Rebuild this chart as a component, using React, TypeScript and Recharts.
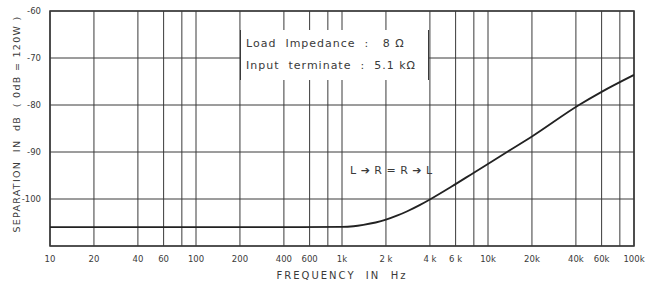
import { CartesianGrid, Line, LineChart, ReferenceArea, XAxis, YAxis } from 'recharts';

const freqs = [10, 100, 500, 1000, 1200, 1400, 1700, 2000, 2400, 2800, 3400, 4000, 5600, 8000, 13500, 20000, 42000, 60000, 100000];
const separation = [-106, -106, -106, -105.95, -105.8, -105.5, -105, -104.4, -103.5, -102.6, -101.3, -100.1, -97.4, -94.4, -90, -86.7, -80, -77.2, -73.6];

const xTicks = [10, 20, 40, 60, 80, 100, 200, 400, 600, 800, 1000, 2000, 4000, 6000, 8000, 10000, 20000, 40000, 60000, 80000, 100000];
const xTickLabels = ['10', '20', '40', '60', '', '100', '200', '400', '600', '', '1k', '2 k', '4 k', '6 k', '', '10k', '20k', '40k', '60k', '', '100k'];
const yTicks = [-100, -90, -80, -70, -60];

const data = freqs.map((f, i) => ({ f, sep: separation[i] }));

const ink = '#3a3a3a';
const font = '"DejaVu Sans", sans-serif';

export default function App() {
  return (
    <div style={{ position: 'absolute', left: 0, top: 0, width: 648, height: 289, background: '#fff', fontFamily: font }}>
      <LineChart width={648} height={289} data={data} margin={{ top: 11, right: 14, bottom: 5, left: 10 }}>
        <CartesianGrid stroke={ink} strokeWidth={1} />
        <XAxis
          dataKey="f"
          type="number"
          scale="log"
          domain={[10, 100000]}
          ticks={xTicks}
          interval={0}
          tickFormatter={(v: number) => xTickLabels[xTicks.indexOf(v)] ?? ''}
          tickLine={false}
          axisLine={false}
          height={38}
          tick={{ fontSize: 8.5, fill: ink, fontFamily: font }}
          tickMargin={4}
          allowDataOverflow
        />
        <YAxis
          type="number"
          domain={[-110, -60]}
          ticks={yTicks}
          interval={0}
          tickLine={false}
          axisLine={false}
          width={40}
          tick={{ fontSize: 8.5, fill: ink, fontFamily: font }}
          tickMargin={3}
        />
        <ReferenceArea x1={10} x2={100000} y1={-110} y2={-60} fill="none" stroke={ink} strokeWidth={1.6} />
        <Line
          dataKey="sep"
          type="monotone"
          stroke="#222"
          strokeWidth={1.8}
          dot={false}
          isAnimationActive={false}
        />
      </LineChart>

      <div
        style={{
          position: 'absolute', left: 240, top: 30, width: 189, height: 50, background: '#fff',
          borderLeft: `1px solid ${ink}`, borderRight: `1px solid ${ink}`, boxSizing: 'border-box',
          fontSize: 11, color: ink, lineHeight: '22px', paddingLeft: 5, paddingTop: 3, letterSpacing: 1,
          whiteSpace: 'nowrap',
        }}
      >
        <div>Load&nbsp;&nbsp;Impedance&nbsp;&nbsp;:&nbsp;&nbsp;&nbsp;8 Ω</div>
        <div>Input&nbsp;&nbsp;terminate&nbsp;&nbsp;:&nbsp;&nbsp;5.1 kΩ</div>
      </div>

      <div style={{ position: 'absolute', left: 350, top: 164, fontSize: 11, color: ink, letterSpacing: 0.5 }}>
        L ➔ R = R ➔ L
      </div>

      <div style={{ position: 'absolute', left: 0, width: 684, top: 270, textAlign: 'center', fontSize: 10, color: ink, letterSpacing: 2 }}>
        FREQUENCY&nbsp;&nbsp;IN&nbsp;&nbsp;Hz
      </div>

      <div
        style={{
          position: 'absolute', left: 17, top: 124, width: 240, marginLeft: -120, marginTop: -7,
          transform: 'rotate(-90deg)', textAlign: 'center', fontSize: 9.5, color: ink, letterSpacing: 1.3,
          whiteSpace: 'nowrap', lineHeight: '14px',
        }}
      >
        SEPARATION&nbsp;&nbsp;IN&nbsp;&nbsp;dB&nbsp;&nbsp;(&nbsp;0dB = 120W&nbsp;)
      </div>
    </div>
  );
}
